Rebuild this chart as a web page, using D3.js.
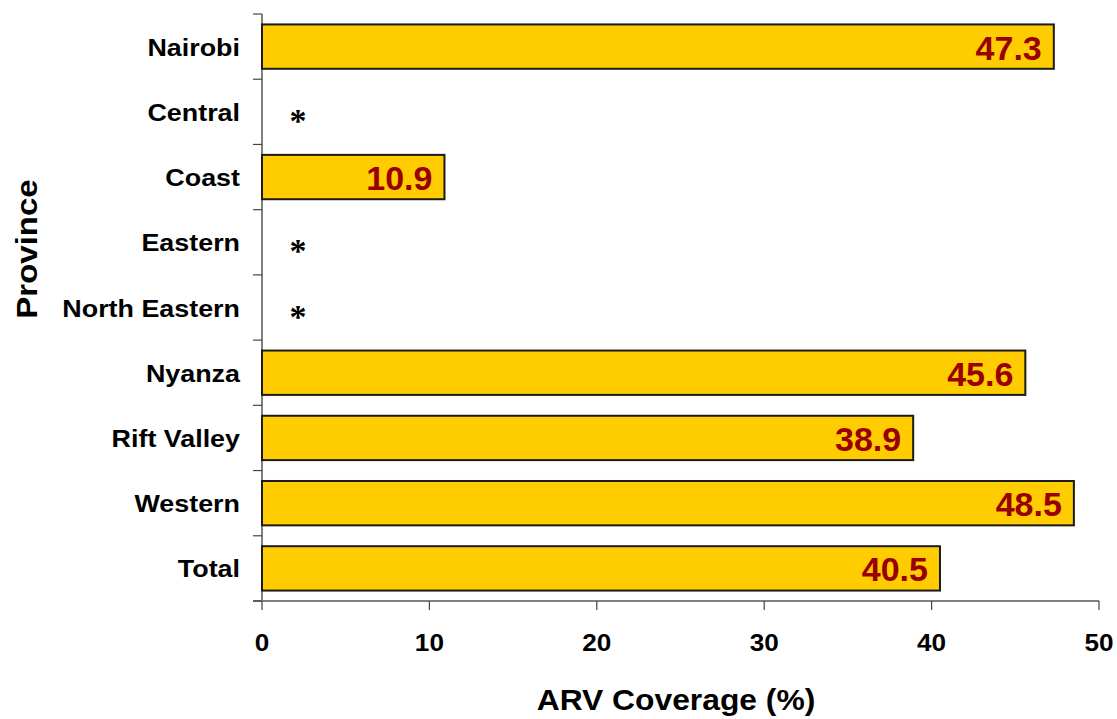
<!DOCTYPE html>
<html>
<head>
<meta charset="utf-8">
<script src="https://cdn.jsdelivr.net/npm/d3@7"></script>
<style>
  html, body { margin: 0; padding: 0; background: #fff; }
  svg { display: block; }
  text { font-family: "Liberation Sans", Arial, sans-serif; font-weight: bold; }
</style>
</head>
<body>
<svg id="chart" width="1117" height="719"></svg>
<script>
// ---- data ----
const provinces = ["Nairobi", "Central", "Coast", "Eastern", "North Eastern", "Nyanza", "Rift Valley", "Western", "Total"];
const coverage  = [47.3, null, 10.9, null, null, 45.6, 38.9, 48.5, 40.5];
const missingMark = "*";
const missingMarkAt = 2.15;
const xTicks = [0, 10, 20, 30, 40, 50];
const xTitle = "ARV Coverage (%)";
const yTitle = "Province";

const data = provinces.map((p, i) => ({ name: p, value: coverage[i] }));

const svg = d3.select("#chart");
const x = d3.scaleLinear().domain([0, 50]).range([262, 1099]);
const y = d3.scaleBand().domain(provinces).range([14, 601]).paddingInner(0.32).paddingOuter(0.16);

// axis lines
const axisColor = "#808080";
svg.append("line").attr("x1", x(0)).attr("x2", x(0)).attr("y1", 14).attr("y2", 601)
  .attr("stroke", axisColor).attr("stroke-width", 2);
svg.append("line").attr("x1", 253).attr("x2", x(50)).attr("y1", 601).attr("y2", 601)
  .attr("stroke", axisColor).attr("stroke-width", 2);

// y ticks (category boundaries)
const boundaries = d3.range(provinces.length + 1).map(i => 14 + i * y.step());
svg.selectAll(".ytick").data(boundaries).join("line")
  .attr("x1", 253).attr("x2", 262).attr("y1", d => d).attr("y2", d => d)
  .attr("stroke", "#444").attr("stroke-width", 1.2);

// x ticks
svg.selectAll(".xtick").data(xTicks).join("line")
  .attr("x1", d => x(d)).attr("x2", d => x(d)).attr("y1", 601).attr("y2", 610)
  .attr("stroke", "#444").attr("stroke-width", 1.2);
svg.selectAll(".xlab").data(xTicks).join("text")
  .attr("transform", d => `translate(${x(d)},651) scale(1.09,1)`).attr("text-anchor", "middle")
  .attr("font-size", 24).attr("fill", "#000").text(d => d);

// category labels
svg.selectAll(".ylab").data(provinces).join("text")
  .attr("transform", d => `translate(240,${y(d) + y.bandwidth() / 2 + 9}) scale(1.12,1)`)
  .attr("text-anchor", "end").attr("font-size", 24).attr("fill", "#000").text(d => d);

// bars
const withVal = data.filter(d => d.value !== null);
svg.selectAll(".bar").data(withVal).join("rect")
  .attr("x", x(0)).attr("y", d => y(d.name))
  .attr("width", d => x(d.value) - x(0)).attr("height", y.bandwidth())
  .attr("fill", "#FFCC00").attr("stroke", "#1a1a1a").attr("stroke-width", 2);

// value labels
svg.selectAll(".vlab").data(withVal).join("text")
  .attr("x", d => x(d.value) - 12).attr("y", d => y(d.name) + y.bandwidth() / 2 + 13)
  .attr("text-anchor", "end").attr("font-size", 34).attr("fill", "#990000")
  .text(d => d.value.toFixed(1));

// missing markers
const missing = data.filter(d => d.value === null);
svg.selectAll(".miss").data(missing).join("text")
  .attr("x", x(missingMarkAt)).attr("y", d => y(d.name) + y.bandwidth() / 2 + 20)
  .attr("text-anchor", "middle").attr("font-size", 34)
  .style("font-family", "'Liberation Serif', 'Times New Roman', serif").style("font-weight", "bold")
  .attr("fill", "#000").text(missingMark);

// axis titles
svg.append("text").attr("transform", "translate(676,710) scale(1.06,1)").attr("text-anchor", "middle")
  .attr("font-size", 30).attr("fill", "#000").text(xTitle);
svg.append("text").attr("transform", "translate(37,249) rotate(-90) scale(1.1,1)").attr("text-anchor", "middle")
  .attr("font-size", 30).attr("fill", "#000").text(yTitle);
</script>
</body>
</html>
